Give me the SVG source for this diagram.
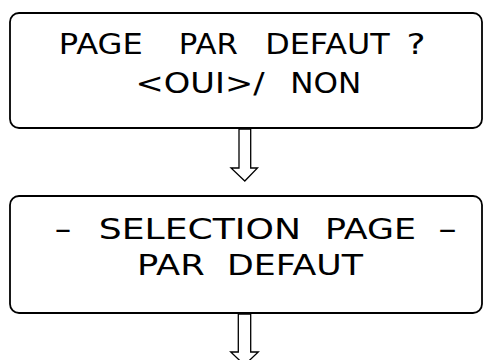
<svg xmlns="http://www.w3.org/2000/svg" width="483" height="360" viewBox="0 0 483 360">
  <style>
    .box { fill: #ffffff; stroke: #000000; stroke-width: 1.8; }
    .lbl { font-family: "DejaVu Sans", "Liberation Sans", sans-serif; font-size: 29px; fill: #000000; }
    .arrow { fill: #ffffff; stroke: #000000; stroke-width: 1.3; stroke-linejoin: miter; }
  </style>
  <rect width="483" height="360" fill="#ffffff"/>

  <g id="node-page-defaut">
    <rect class="box" x="10" y="13" width="472" height="115" rx="9" ry="9"/>
    <text class="lbl" x="58.8" y="53.5" textLength="84" lengthAdjust="spacingAndGlyphs">PAGE</text>
    <text class="lbl" x="178.8" y="53.5" textLength="59" lengthAdjust="spacingAndGlyphs">PAR</text>
    <text class="lbl" x="265.3" y="53.5" textLength="124.4" lengthAdjust="spacingAndGlyphs">DEFAUT</text>
    <text class="lbl" x="406.5" y="53.5" textLength="19" lengthAdjust="spacingAndGlyphs">?</text>
    <text class="lbl" x="135.5" y="93.3" textLength="129" lengthAdjust="spacingAndGlyphs">&lt;OUI&gt;/</text>
    <text class="lbl" x="290.3" y="93.3" textLength="71" lengthAdjust="spacingAndGlyphs">NON</text>
  </g>

  <g id="node-selection-page">
    <rect class="box" x="10" y="196" width="472" height="117" rx="9" ry="9"/>
    <text class="lbl" x="54" y="238.5" textLength="18" lengthAdjust="spacingAndGlyphs">-</text>
    <text class="lbl" x="98.7" y="238.5" textLength="202.3" lengthAdjust="spacingAndGlyphs">SELECTION</text>
    <text class="lbl" x="325" y="238.5" textLength="91" lengthAdjust="spacingAndGlyphs">PAGE</text>
    <text class="lbl" x="437.5" y="238.5" textLength="20" lengthAdjust="spacingAndGlyphs">-</text>
    <text class="lbl" x="137" y="274.5" textLength="67.7" lengthAdjust="spacingAndGlyphs">PAR</text>
    <text class="lbl" x="227" y="274.5" textLength="136" lengthAdjust="spacingAndGlyphs">DEFAUT</text>
  </g>

  <g id="connectors">
    <!-- hollow block arrows between the boxes -->
    <path class="arrow" d="M239 129 H250.7 V168 H257.5 L244.8 181 L231 168 H239 Z"/>
    <path class="arrow" d="M238.3 314 H250.7 V352 H258.3 L244.5 365 L230.7 352 H238.3 Z"/>
  </g>
</svg>
